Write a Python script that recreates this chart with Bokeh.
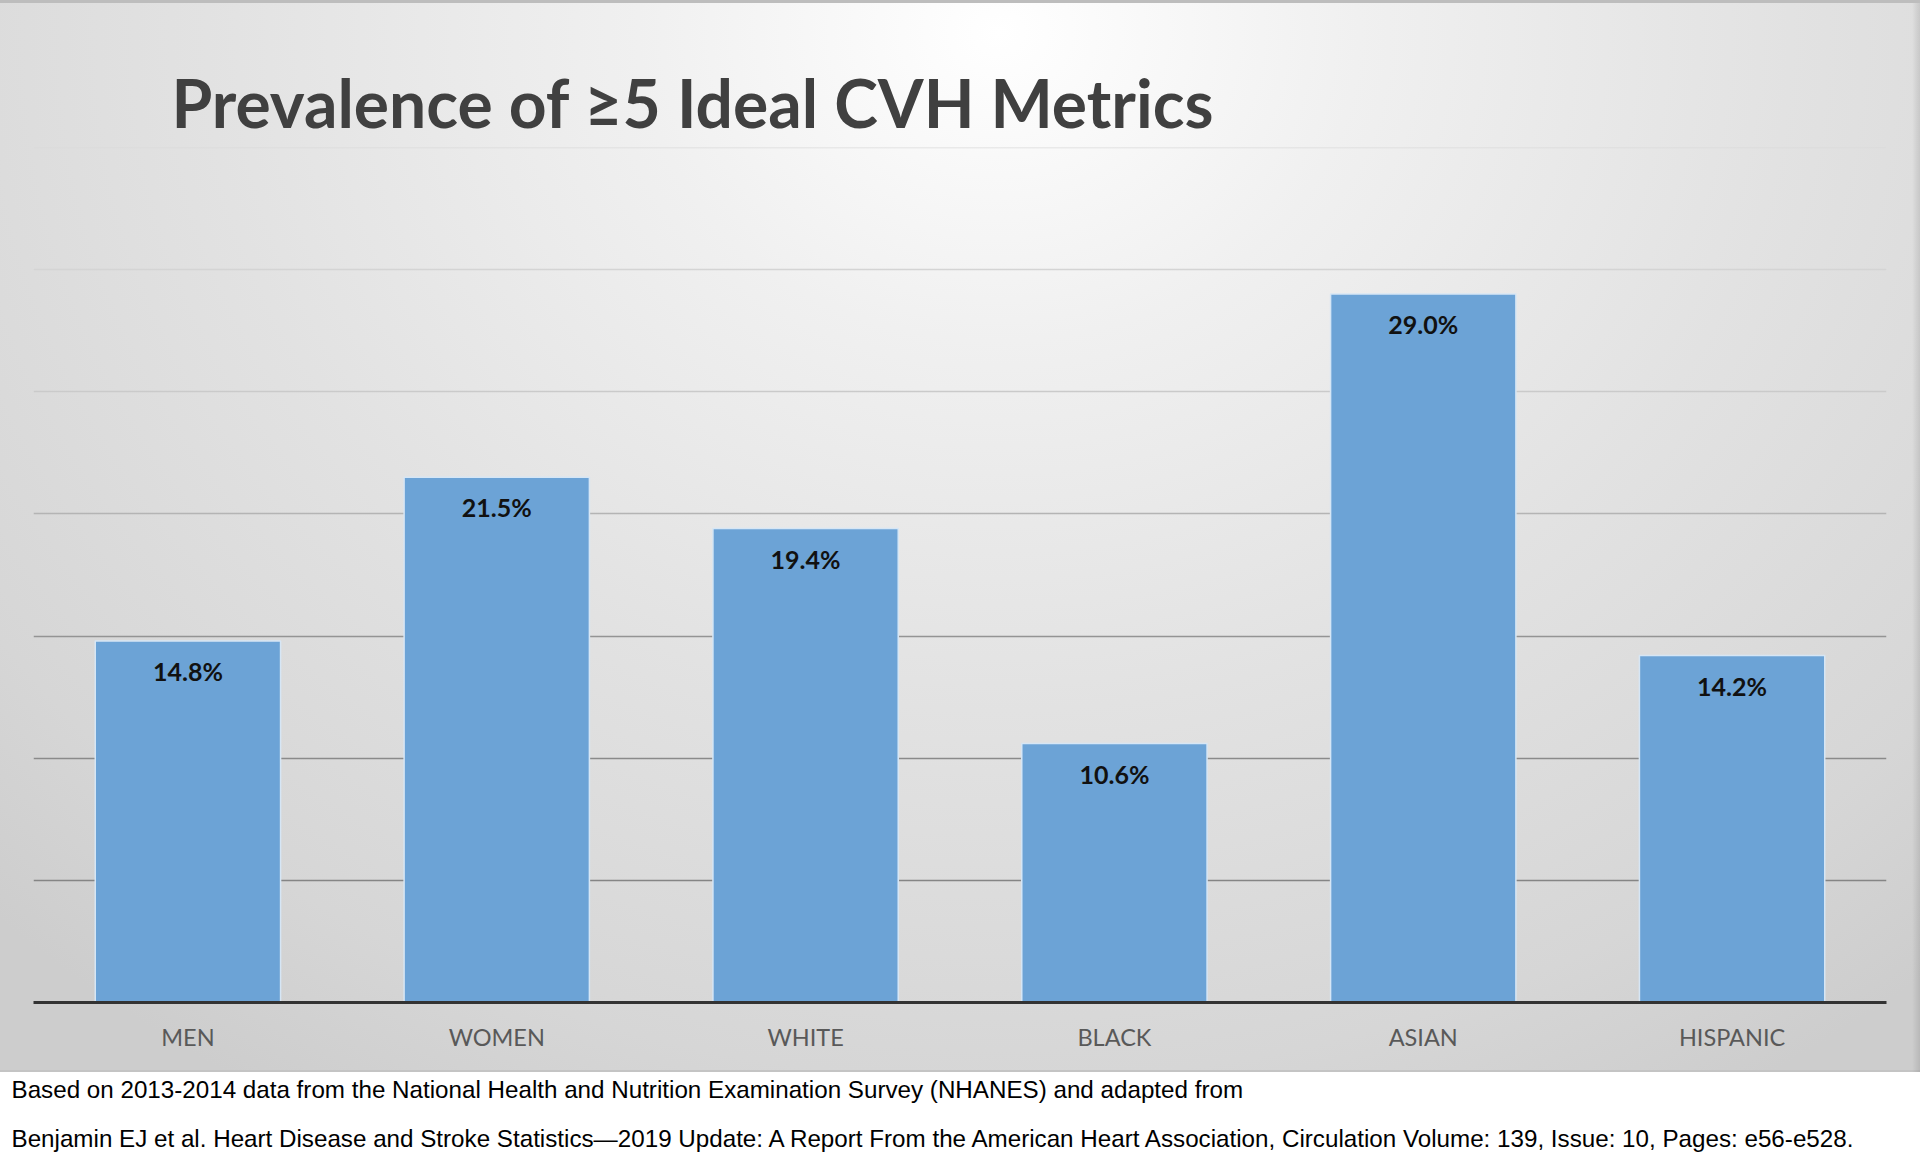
from bokeh.plotting import figure
from bokeh.models import FactorRange, Range1d, ColumnDataSource, Title
from bokeh.core.properties import value
from bokeh.embed import file_html
from bokeh.resources import INLINE

# ---- data ----
categories = ["MEN", "WOMEN", "WHITE", "BLACK", "ASIAN", "HISPANIC"]
prevalence = [14.8, 21.5, 19.4, 10.6, 29.0, 14.2]
grid_values = [5, 10, 15, 20, 25, 30, 35]
grid_colors = ["#858585", "#8a8a8a", "#949494", "#b4b4b4", "#cacaca", "#d4d4d4", "#dadada"]
title_text = "Prevalence of \u22655 Ideal CVH Metrics"
footnote_lines = [
    "Based on 2013-2014 data from the National Health and Nutrition Examination Survey (NHANES) and adapted from",
    "Benjamin EJ et al. Heart Disease and Stroke Statistics\u20142019 Update: A Report From the American Heart Association, Circulation Volume: 139, Issue: 10, Pages: e56-e528.",
]

W = 1920
H = 1152

labels = [f"{v:.1f}%" for v in prevalence]
src = ColumnDataSource(dict(cat=categories, val=prevalence, lab=labels))

p = figure(
    x_range=FactorRange(*categories, range_padding=0),
    y_range=Range1d(0, 35),
    width=W, height=H,
    output_backend="svg", toolbar_location=None,
    y_axis_location=None,
    min_border_left=33, min_border_right=34,
    min_border_top=147, min_border_bottom=150,
)
p.background_fill_color = None
p.border_fill_color = None
p.outline_line_color = None
p.styles = {
    "background": (
        "linear-gradient(#bdbdbd,#bdbdbd) 0 0 / 100% 3px no-repeat, "
        "linear-gradient(to right, rgba(0,0,0,0), rgba(0,0,0,0.10)) right 0 top 0 / 8px 1072px no-repeat, "
        "linear-gradient(#c4c4c4,#c4c4c4) 0 1070px / 100% 2px no-repeat, "
        "radial-gradient(ellipse 75% 115% at 52% 3%, #ffffff 0%, #f0f0f0 25%, #e2e2e2 55%, #d6d6d6 85%, #cdcdcd 100%) 0 0 / 100% 1072px no-repeat, "
        "#ffffff"
    ),
}
p.xgrid.grid_line_color = None
p.ygrid.grid_line_color = None

p.hspan(y=grid_values, line_color=grid_colors, line_width=1.5)

p.vbar(x="cat", top="val", width=0.6, source=src,
       fill_color="#6ca3d6", line_color="#d6e6f5", line_width=1.5)

p.text(x="cat", y="val", text="lab", source=src,
       text_align="center", text_baseline="middle", y_offset=30,
       text_font=value("Lato"), text_font_style="bold",
       text_font_size="25px", text_color="#111111")

ax = p.xaxis[0]
ax.axis_line_color = "#333333"
ax.axis_line_width = 3
ax.major_tick_line_color = None
ax.minor_tick_line_color = None
ax.major_tick_out = 0
ax.major_label_standoff = 20
ax.major_label_text_font = "Lato"
ax.major_label_text_font_size = "23.5px"
ax.major_label_text_color = "#595959"

p.title.text = title_text
p.title.text_font = "Lato"
p.title.text_font_style = "bold"
p.title.text_font_size = "66px"
p.title.text_color = "#404040"
p.title.offset = 138
p.title.standoff = 12

for i, line in enumerate(footnote_lines):
    t = Title(text=line, align="left", offset=-22,
              text_font="Liberation Sans", text_font_style="normal",
              text_font_size="24.2px", text_color="#000000",
              standoff=40 if i == 0 else 0)
    p.add_layout(t, "below")

open("out.html", "w").write(file_html(p, INLINE))
